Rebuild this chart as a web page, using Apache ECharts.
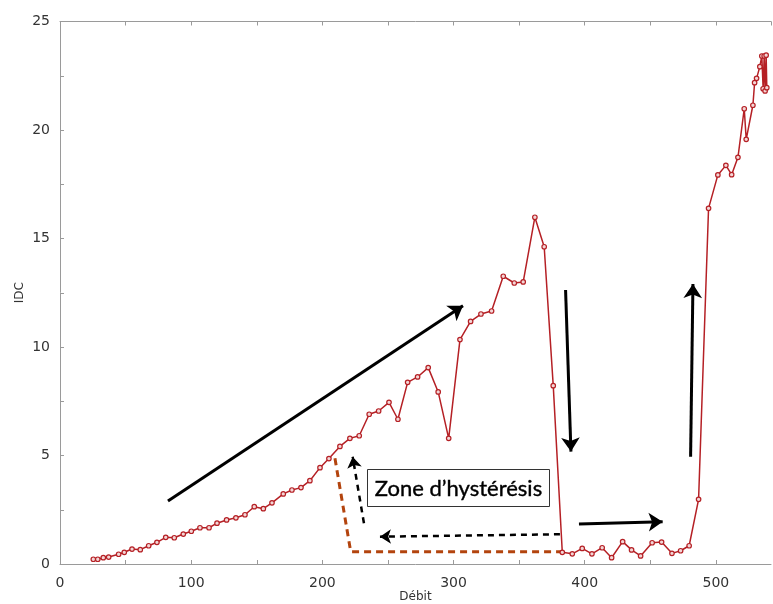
<!DOCTYPE html>
<html><head><meta charset="utf-8">
<script src="https://cdn.jsdelivr.net/npm/echarts@6/dist/echarts.min.js"></script>
<style>html,body{margin:0;padding:0;background:#fff}#c{width:773px;height:604px}</style>
</head><body><div id="c"></div>
<script>
const debit = [25.4, 28.8, 33, 37.1, 44.7, 49, 54.9, 61.2, 67.6, 73.9, 80.6, 87.1, 94, 100.1, 106.7, 113.6, 119.7, 127, 134.1, 141, 148.1, 155, 161.6, 170.2, 176.8, 183.7, 190.5, 198.2, 205, 213.4, 221, 228.1, 235.7, 242.9, 250.8, 257.6, 265, 272.6, 280.7, 288.3, 296.3, 304.9, 313, 320.9, 329, 337.9, 346.3, 353.1, 362, 369.1, 376, 382.9, 390.5, 398.1, 405.5, 413.3, 420.5, 428.9, 435.7, 442.6, 451.4, 458.6, 466.5, 473.1, 479.6, 486.8, 494.4, 501.5, 507.6, 512, 516.8, 521.6, 523.1, 528.2, 529.5, 531, 533.5, 535, 536, 536.8, 537.5, 538.3, 538.8];
const idc = [0.22, 0.22, 0.29, 0.32, 0.45, 0.54, 0.69, 0.66, 0.84, 1.0, 1.23, 1.21, 1.38, 1.51, 1.67, 1.67, 1.88, 2.03, 2.13, 2.27, 2.64, 2.55, 2.82, 3.23, 3.41, 3.52, 3.84, 4.44, 4.86, 5.42, 5.79, 5.91, 6.9, 7.05, 7.45, 6.67, 8.37, 8.62, 9.05, 7.93, 5.79, 10.34, 11.18, 11.52, 11.66, 13.26, 12.95, 13.0, 15.98, 14.62, 8.22, 0.54, 0.47, 0.72, 0.47, 0.75, 0.29, 1.03, 0.65, 0.37, 0.98, 1.01, 0.49, 0.61, 0.84, 2.98, 16.39, 17.93, 18.37, 17.94, 18.74, 20.98, 19.57, 21.14, 22.18, 22.38, 22.92, 23.41, 21.9, 23.41, 21.8, 23.45, 21.95];

// annotation arrows in data coordinates
const solidArrows = [
  [[82.3, 2.9], [307.2, 11.9]],
  [[385.4, 12.63], [389.5, 5.18]],
  [[395.6, 1.84], [459.4, 1.95]],
  [[480.7, 4.94], [482.5, 12.9]]
];
const dashedArrows = [
  [[381.1, 1.37], [243.9, 1.26]],
  [[231.7, 1.88], [223.1, 4.94]]
];
const hysteresisPath = [[209.6, 4.87], [221.6, 0.57], [382.4, 0.57]];
const boxLabel = 'Zone d’hystérésis';

const xTicks = [0, 100, 200, 300, 400, 500];
const yTicks = [0, 5, 10, 15, 20, 25];

const chart = echarts.init(document.getElementById('c'), null, {renderer: 'canvas'});
const axisGray = '#9a9a9a';
const labelFont = {fontFamily: 'DejaVu Sans', fontSize: 14, color: '#333'};

chart.setOption({
  animation: false,
  backgroundColor: '#fff',
  grid: {left: 60, right: 2, top: 21.5, bottom: 40, outerBoundsMode: 'none', containLabel: false},
  xAxis: [{
    type: 'value', min: 0, max: 542, interval: 50,
    name: 'Débit', nameLocation: 'middle', nameGap: 27, nameMoveOverlap: false,
    nameTextStyle: {fontFamily: 'DejaVu Sans', fontSize: 12, color: '#333'},
    axisLine: {lineStyle: {color: axisGray, width: 1}},
    axisTick: {inside: true, length: 4, lineStyle: {color: axisGray}},
    splitLine: {show: false},
    axisLabel: Object.assign({margin: 12, showMaxLabel: false,
      formatter: v => xTicks.includes(v) ? String(v) : ''}, labelFont)
  }, {
    type: 'value', position: 'top', min: 0, max: 542, interval: 50,
    axisLine: {show: true, lineStyle: {color: axisGray, width: 1}},
    axisTick: {inside: true, length: 4, lineStyle: {color: axisGray}},
    axisLabel: {show: false}, splitLine: {show: false}
  }],
  yAxis: {
    type: 'value', min: 0, max: 25, interval: 2.5,
    name: 'IDC', nameLocation: 'middle', nameGap: 34, nameMoveOverlap: false,
    nameTextStyle: {fontFamily: 'DejaVu Sans', fontSize: 12, color: '#333'},
    axisLine: {show: true, lineStyle: {color: axisGray, width: 1}},
    axisTick: {inside: true, length: 4, lineStyle: {color: axisGray}},
    splitLine: {show: false},
    axisLabel: Object.assign({margin: 10,
      formatter: v => yTicks.includes(v) ? String(v) : ''}, labelFont)
  },
  series: [{
    type: 'line',
    data: debit.map((x, i) => [x, idc[i]]),
    symbol: 'circle', symbolSize: 4.5, showAllSymbol: true,
    lineStyle: {color: '#b52025', width: 1.5},
    itemStyle: {color: '#f3d6d6', borderColor: '#b52025', borderWidth: 1.2},
    z: 3
  }, {
    type: 'lines', coordinateSystem: 'cartesian2d', polyline: true,
    data: [{coords: hysteresisPath}],
    lineStyle: {color: '#b3440e', width: 3, type: [7, 5], opacity: 1},
    z: 2
  }, {
    type: 'lines', coordinateSystem: 'cartesian2d',
    symbol: ['none', 'arrow'], symbolSize: 14,
    data: solidArrows.map(c => ({coords: c})),
    lineStyle: {color: '#000', width: 3, opacity: 1},
    z: 4
  }, {
    type: 'lines', coordinateSystem: 'cartesian2d',
    symbol: ['none', 'arrow'], symbolSize: 11,
    data: dashedArrows.map(c => ({coords: c})),
    lineStyle: {color: '#000', width: 2.5, type: [6, 5], opacity: 1},
    z: 4
  }],
  graphic: [{
    type: 'group', left: 367, top: 469,
    children: [{
      type: 'rect', shape: {x: 0, y: 0, width: 182, height: 37},
      style: {fill: '#fff', stroke: '#333', lineWidth: 1}
    }, {
      type: 'text', x: 91, y: 19,
      style: {text: boxLabel, fontFamily: 'Lato', fontSize: 22, fill: '#000',
        stroke: '#000', lineWidth: 0.4,
        align: 'center', verticalAlign: 'middle'}
    }]
  }]
});
</script></body></html>
